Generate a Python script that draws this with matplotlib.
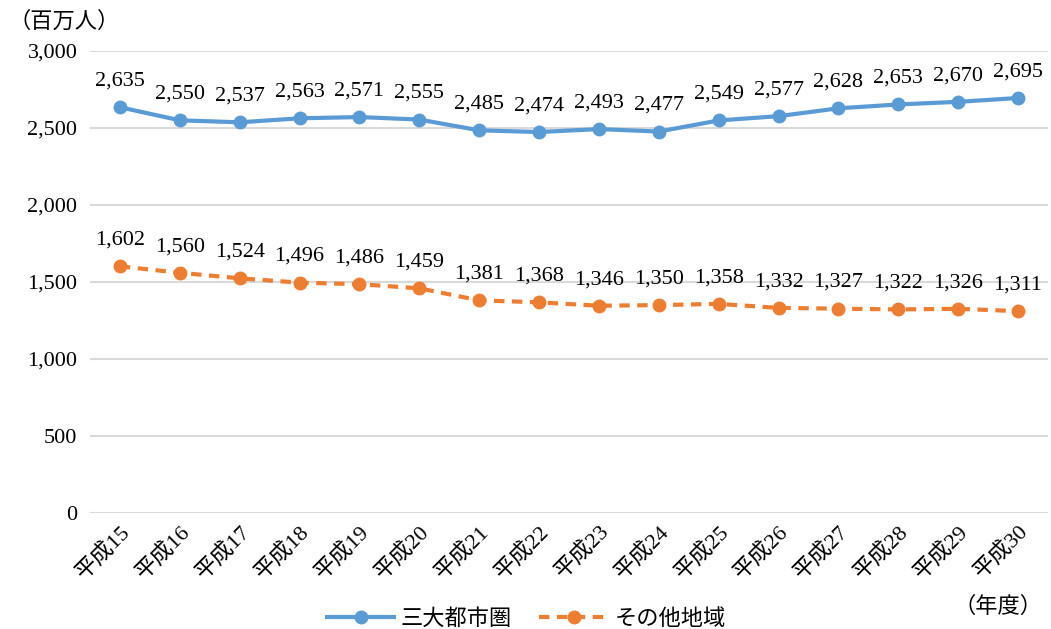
import matplotlib.pyplot as plt

plt.rcParams["font.family"] = ["Liberation Serif", "Noto Sans CJK JP"]

years = ["平成15", "平成16", "平成17", "平成18", "平成19", "平成20", "平成21", "平成22",
         "平成23", "平成24", "平成25", "平成26", "平成27", "平成28", "平成29", "平成30"]
metro = [2635, 2550, 2537, 2563, 2571, 2555, 2485, 2474,
         2493, 2477, 2549, 2577, 2628, 2653, 2670, 2695]
other = [1602, 1560, 1524, 1496, 1486, 1459, 1381, 1368,
         1346, 1350, 1358, 1332, 1327, 1322, 1326, 1311]
series_names = ["三大都市圏", "その他地域"]
yticks = [0, 500, 1000, 1500, 2000, 2500, 3000]

blue = "#5B9BD5"
orange = "#ED7D31"
fs = 16

fig = plt.figure(figsize=(10.51, 6.29), dpi=100)
ax = fig.add_axes([0.0856, 0.1844, 0.9115, 0.7345])

x = list(range(len(years)))
ax.plot(x, metro, color=blue, lw=3, marker="o", ms=9, label=series_names[0],
        solid_capstyle="butt", zorder=3)
ax.plot(x, other, color=orange, lw=3, marker="o", ms=9, label=series_names[1],
        linestyle=(0, (2.5, 1.8)), dash_capstyle="butt", zorder=3)

for xi, v in zip(x, metro):
    ax.annotate(f"{v:,}", (xi, v), xytext=(0, 12), textcoords="offset points",
                ha="center", va="bottom", fontsize=fs)
for xi, v in zip(x, other):
    ax.annotate(f"{v:,}", (xi, v), xytext=(0, 12), textcoords="offset points",
                ha="center", va="bottom", fontsize=fs)

ax.set_xlim(-0.5, len(years) - 0.5)
ax.set_ylim(0, 3000)
ax.set_yticks(yticks)
ax.set_yticklabels([f"{t:,}" for t in yticks], fontsize=fs)
ax.set_xticks(x)
ax.set_xticklabels(years, fontsize=fs, rotation=45, ha="right",
                   rotation_mode="anchor")
ax.tick_params(axis="both", length=0)
ax.tick_params(axis="y", pad=9)
ax.tick_params(axis="x", pad=6)
ax.grid(axis="y", color="#d9d9d9", lw=1.5)
ax.set_axisbelow(True)
for s in ax.spines.values():
    s.set_visible(False)

fig.text(0.008, 0.965, "（百万人）", fontsize=fs, va="center", ha="left")
fig.text(0.907, 0.035, "（年度）", fontsize=fs, va="center", ha="left")

fig.legend(loc="center", bbox_to_anchor=(0.5, 0.015), ncol=2, frameon=False,
           fontsize=fs, handlelength=3.2, columnspacing=1.2, handletextpad=0.2)

fig.savefig("out.png", dpi=100)
